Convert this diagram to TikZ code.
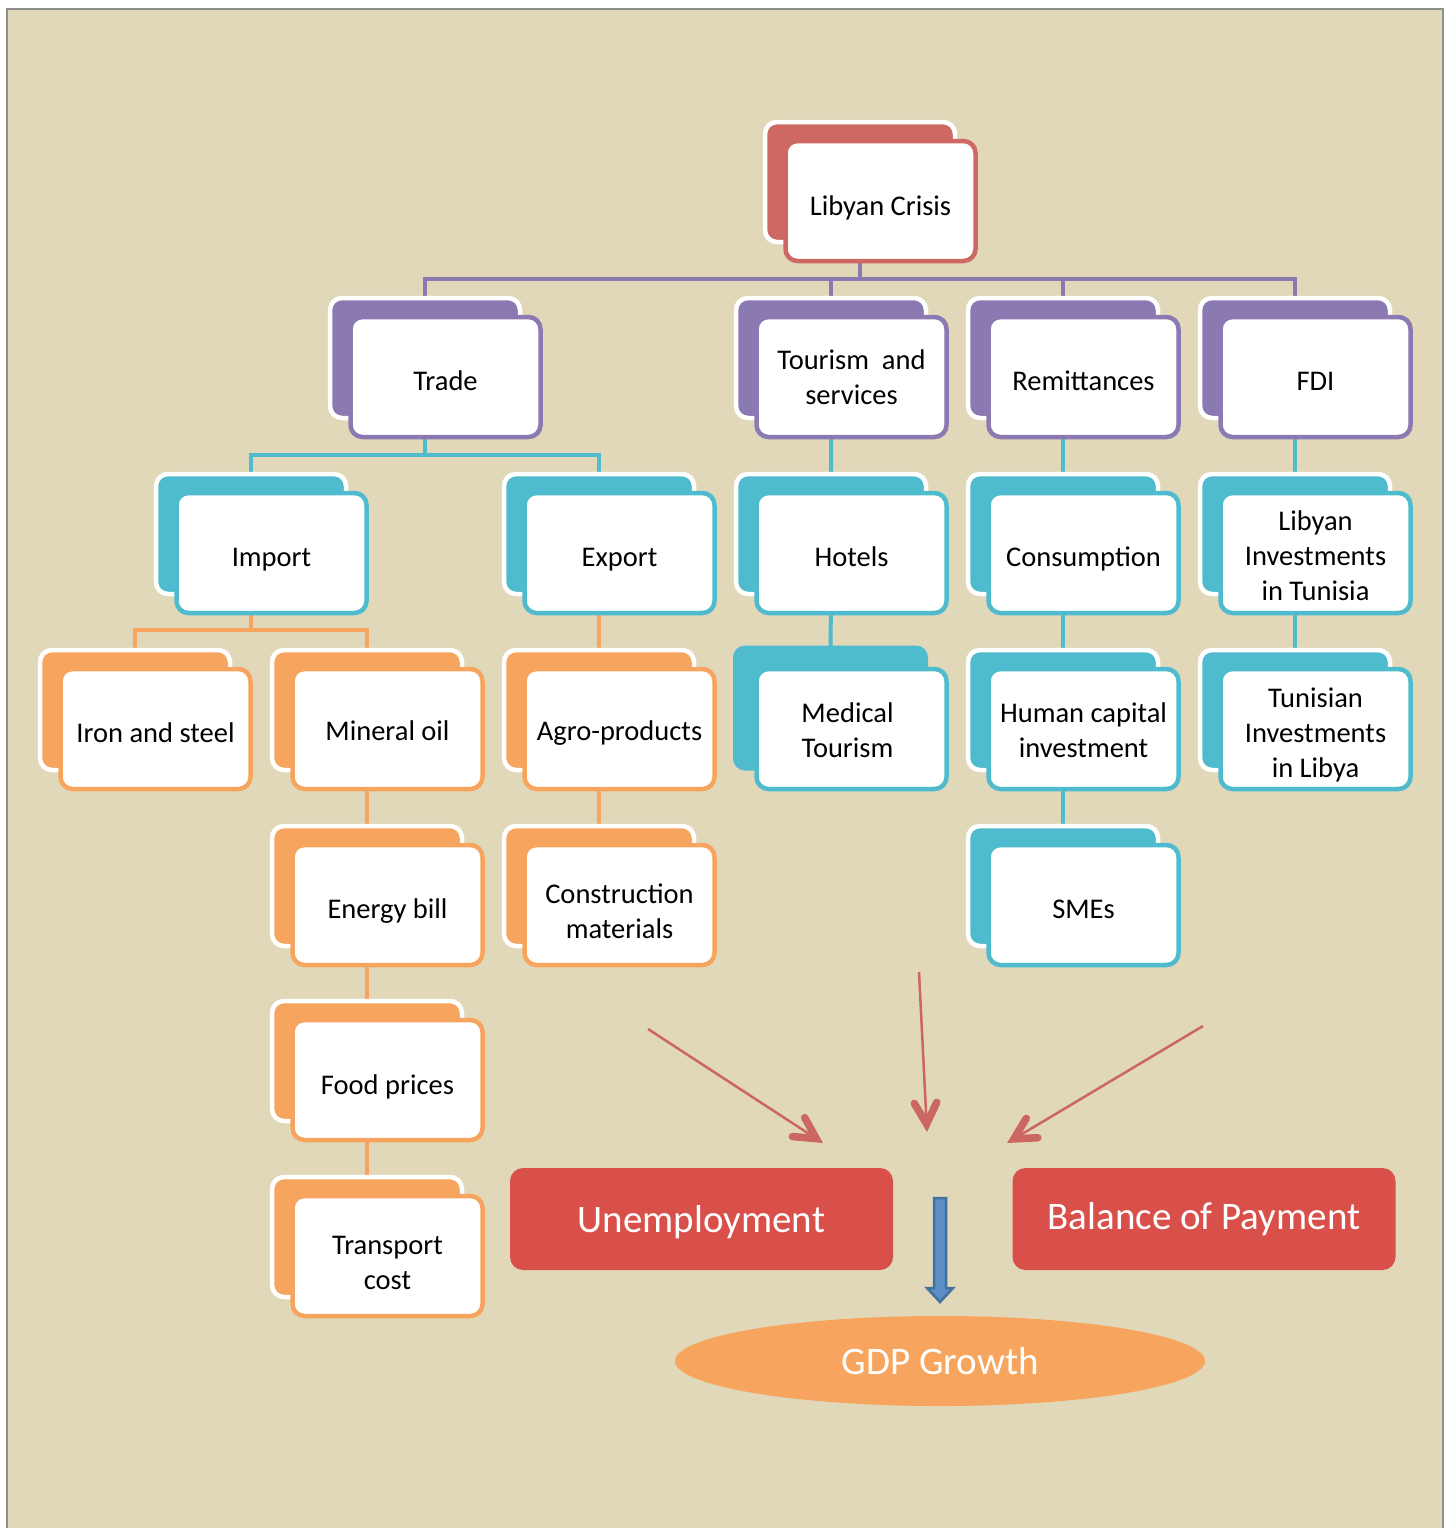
\documentclass[tikz,border=0pt]{standalone}
\usepackage{fontspec}
\setmainfont{Carlito}
\usetikzlibrary{calc,shapes.geometric}
\definecolor{bgc}{HTML}{E0D8B9}
\definecolor{crisisc}{HTML}{CD6962}
\definecolor{purp}{HTML}{8B79B1}
\definecolor{cyanc}{HTML}{4FBBCF}
\definecolor{orng}{HTML}{F7A55E}
\definecolor{redbox}{HTML}{D9504A}
\definecolor{arrowred}{HTML}{CB6660}
\definecolor{blued}{HTML}{41719C}
\definecolor{bluel}{HTML}{5B8FC6}
\definecolor{framec}{HTML}{8E8E8E}
\pgfdeclarelayer{backlayer}
\pgfdeclarelayer{lineslayer}
\pgfsetlayers{backlayer,lineslayer,main}
\tikzset{
  frontbox/.style={draw=#1, fill=white, line width=4.5pt, rounded corners=12pt,
    minimum width=190pt, minimum height=120pt, inner sep=0pt},
  boxtext/.style={inner sep=0pt, align=center, anchor=base,
    font=\fontsize{28.5}{35}\selectfont},
  backbox/.style={draw=white, fill=#1, line width=4.5pt, rounded corners=12pt,
    minimum width=190pt, minimum height=120pt, inner sep=0pt},
  backplain/.style={fill=#1, rounded corners=12pt,
    minimum width=195pt, minimum height=125pt, inner sep=0pt},
  conn/.style={draw=#1, line width=4pt},
  resultbox/.style={fill=redbox, rounded corners=13pt, minimum width=383pt,
    minimum height=102pt, inner sep=0pt, text=white, font=\fontsize{39}{46}\selectfont},
  redarrowshaft/.style={draw=arrowred, line width=2.5pt},
  redarrowhead/.style={draw=arrowred, line width=7.5pt, line cap=round, line join=miter},
}
% [baseline offset of last text line]{name}{colour}{centre}{text}
\newcommand\stackbox[5][13]{%
  \node[backbox=#3] (#2b) at ($(#4)+(-20.5,-19)$) {};
  \node[frontbox=#3] (#2) at (#4) {};
  \node[boxtext] (#2t) at ($(#2.center)+(0,#1)$) {#5};
}
\begin{document}
\begin{tikzpicture}[x=1pt,y=-1pt]
\useasboundingbox (0,0) rectangle (1451,1528);
\begin{pgfonlayer}{backlayer}
  \fill[white] (0,0) rectangle (1451,1528);
  \draw[fill=bgc, draw=framec, line width=2pt] (7,9) rectangle (1443,1545);
\end{pgfonlayer}

% level 0
\stackbox[14]{crisis}{crisisc}{880.5,201}{Libyan Crisis}
% level 1
\stackbox{trade}{purp}{445.5,377}{Trade}
\stackbox[27]{tourism}{purp}{851.5,377}{Tourism\ \ and\\services}
\stackbox{remit}{purp}{1083.5,377}{Remittances}
\stackbox{fdi}{purp}{1315.5,377}{FDI}
% level 2
\stackbox{import}{cyanc}{271.5,553}{Import}
\stackbox{export}{cyanc}{619.5,553}{Export}
\stackbox{hotels}{cyanc}{851.5,553}{Hotels}
\stackbox{consum}{cyanc}{1083.5,553}{Consumption}
\stackbox[47]{libinv}{cyanc}{1315.5,553}{Libyan\\Investments\\in Tunisia}
% level 3
\stackbox{iron}{orng}{155.5,729}{Iron and steel}
\stackbox[11]{mineral}{orng}{387.5,729}{Mineral oil}
\stackbox[11]{agro}{orng}{619.5,729}{Agro-products}
\node[backplain=cyanc] (medicalb) at (830.5,708) {};
\node[frontbox=cyanc] (medical) at (851.5,729) {};
\node[boxtext] (medicalt) at ($(medical.center)+(-4,28)$) {Medical\\Tourism};
\stackbox[28]{human}{cyanc}{1083.5,729}{Human capital\\investment}
\stackbox[48]{tuninv}{cyanc}{1315.5,729}{Tunisian\\Investments\\in Libya}
% level 4+
\stackbox{energy}{orng}{387.5,905}{Energy bill}
\stackbox[33]{constr}{orng}{619.5,905}{Construction\\materials}
\stackbox{smes}{cyanc}{1083.5,905}{SMEs}
\stackbox[14]{food}{orng}{387.5,1080}{Food prices}
\stackbox[33]{transport}{orng}{387.5,1256}{Transport\\cost}

% connectors
\coordinate (h1) at (0,279);
\coordinate (h2) at (0,455);
\coordinate (h3) at (0,630);
\begin{pgfonlayer}{lineslayer}
  \draw[conn=purp] (crisisb.center) -- (crisisb.center |- h1) -| (tradeb.center);
  \draw[conn=purp] (crisisb.center |- h1) -| (tourismb.center);
  \draw[conn=purp] (crisisb.center |- h1) -| (remitb.center);
  \draw[conn=purp] (crisisb.center |- h1) -| (fdib.center);
  \draw[conn=cyanc] (tradeb.center) -- (tradeb.center |- h2) -| (importb.center);
  \draw[conn=cyanc] (tradeb.center |- h2) -| (exportb.center);
  \draw[conn=orng] (importb.center) -- (importb.center |- h3) -| (ironb.center);
  \draw[conn=orng] (importb.center |- h3) -| (mineralb.center);
  \draw[conn=orng] (mineralb.center) -- (energyb.center) -- (foodb.center) -- (transportb.center);
  \draw[conn=orng] (exportb.center) -- (agrob.center) -- (constrb.center);
  \draw[conn=cyanc] (tourismb.center) -- (hotelsb.center) -- (medicalb.center);
  \draw[conn=cyanc] (remitb.center) -- (consumb.center) -- (humanb.center) -- (smesb.center);
  \draw[conn=cyanc] (fdib.center) -- (libinvb.center) -- (tuninvb.center);
\end{pgfonlayer}

% result boxes
\node[resultbox, text depth=0pt] (unemp) at (701.5,1219) {Unemployment};
\node[resultbox] (bop) at (1204,1219) {Balance of Payment};
\node[ellipse, fill=orng, minimum width=530pt, minimum height=90pt, inner sep=0pt,
  text=white, font=\fontsize{39}{46}\selectfont] (gdp) at (940,1361) {GDP Growth};

% red arrows
\coordinate (a1s) at (648,1029); \coordinate (a1t) at (823,1143);
\coordinate (a2s) at (919,972);  \coordinate (a2t) at (927,1132);
\coordinate (a3s) at (1203,1026); \coordinate (a3t) at (1007,1143);
\foreach \k in {1,2,3}{
  \coordinate (a\k v) at ($(a\k t)!8pt!(a\k s)$);
  \draw[redarrowshaft] (a\k s) -- (a\k v);
  \draw[redarrowhead] ($(a\k v)!24pt!28:(a\k s)$) -- (a\k v) -- ($(a\k v)!24pt!-28:(a\k s)$);
}

% blue arrow
\coordinate (bt) at (940,1198);
\coordinate (bb) at (940,1302);
\draw[fill=bluel, draw=blued, line width=2.5pt, line join=miter]
  ($(bt)+(-6,0)$) -- ($(bt)+(6,0)$) -- ($(bb)+(6,-14)$) -- ($(bb)+(13,-14)$) -- (bb)
  -- ($(bb)+(-13,-14)$) -- ($(bb)+(-6,-14)$) -- cycle;
\end{tikzpicture}
\end{document}
